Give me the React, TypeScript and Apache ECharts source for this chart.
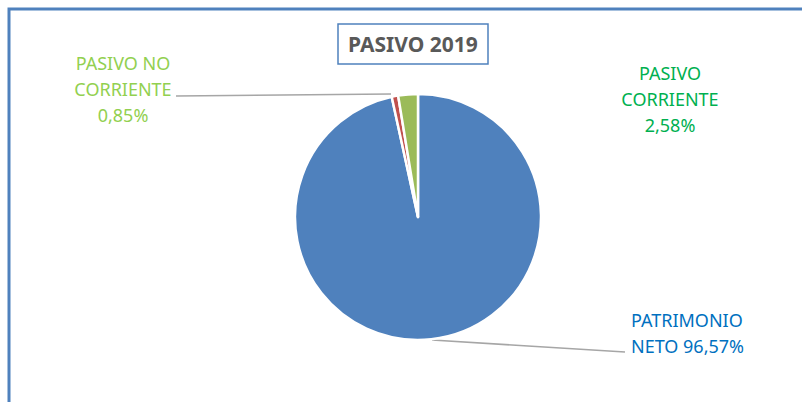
import React, { useEffect, useRef } from "react";
import * as echarts from "echarts";

const categories = ["PATRIMONIO\nNETO", "PASIVO NO\nCORRIENTE", "PASIVO\nCORRIENTE"];
const values = [96.57, 0.85, 2.58];
const sliceColors = ["#4F81BD", "#C0504D", "#9BBB59"];
const labelColors = ["#0070C0", "#92D050", "#00B050"];
const titleText = "PASIVO 2019";

// label placement (layout only)
const labelPos = [
  { x: 631, y: 333, align: "left", sep: " ", line: [[432, 340], [528, 346], [625, 352]] as null | number[][] },
  { x: 123, y: 89, align: "center", sep: "\n", line: [[391, 94], [282, 95], [176, 96]] as null | number[][] },
  { x: 670, y: 99, align: "center", sep: "\n", line: null as null | number[][] },
];

export default function App() {
  const ref = useRef<HTMLDivElement>(null);
  useEffect(() => {
    if (!ref.current) return;
    const chart = echarts.init(ref.current, null, { renderer: "svg" });
    const fmt = (v: number) => v.toFixed(2).replace(".", ",") + "%";
    const data = categories.map((name, i) => ({
      name,
      value: values[i],
      itemStyle: { color: sliceColors[i] },
      label: { color: labelColors[i], align: labelPos[i].align },
      labelLine: { show: !!labelPos[i].line },
    }));
    chart.setOption({
      animation: false,
      backgroundColor: "#ffffff",
      title: {
        text: titleText,
        left: 338,
        top: 24,
        padding: [7, 10, 7, 10],
        borderColor: "#4F81BD",
        borderWidth: 1.5,
        backgroundColor: "#ffffff",
        textStyle: {
          fontFamily: "Noto Sans",
          fontSize: 21,
          fontWeight: "bold",
          color: "#595959",
          lineHeight: 26,
        },
      },
      graphic: [
        {
          type: "polyline",
          shape: { points: [[9, 402], [9, 9], [802, 9]] },
          style: { stroke: "#4F81BD", lineWidth: 3, fill: "none" },
          silent: true,
        },
      ],
      series: [
        {
          type: "pie",
          center: [418, 217],
          radius: 123,
          startAngle: 90,
          clockwise: true,
          itemStyle: { borderColor: "#ffffff", borderWidth: 2.5 },
          label: {
            show: true,
            position: "outside",
            fontFamily: "Noto Sans",
            fontSize: 18,
            lineHeight: 26,
            formatter: (p: any) => String(p.name) + labelPos[p.dataIndex].sep + fmt(p.value),
          },
          labelLine: {
            show: true,
            lineStyle: { color: "#A6A6A6", width: 1.5 },
          },
          labelLayout: (params: any) => {
            const lp = labelPos[params.dataIndex];
            const res: any = {
              x: lp.x,
              y: lp.y,
              align: lp.align,
              verticalAlign: "middle",
            };
            if (lp.line) res.labelLinePoints = lp.line;
            return res;
          },
          data,
        },
      ],
    });
    return () => chart.dispose();
  }, []);
  return (
    <div
      ref={ref}
      style={{ position: "fixed", left: 0, top: 0, width: 802, height: 402 }}
    />
  );
}
